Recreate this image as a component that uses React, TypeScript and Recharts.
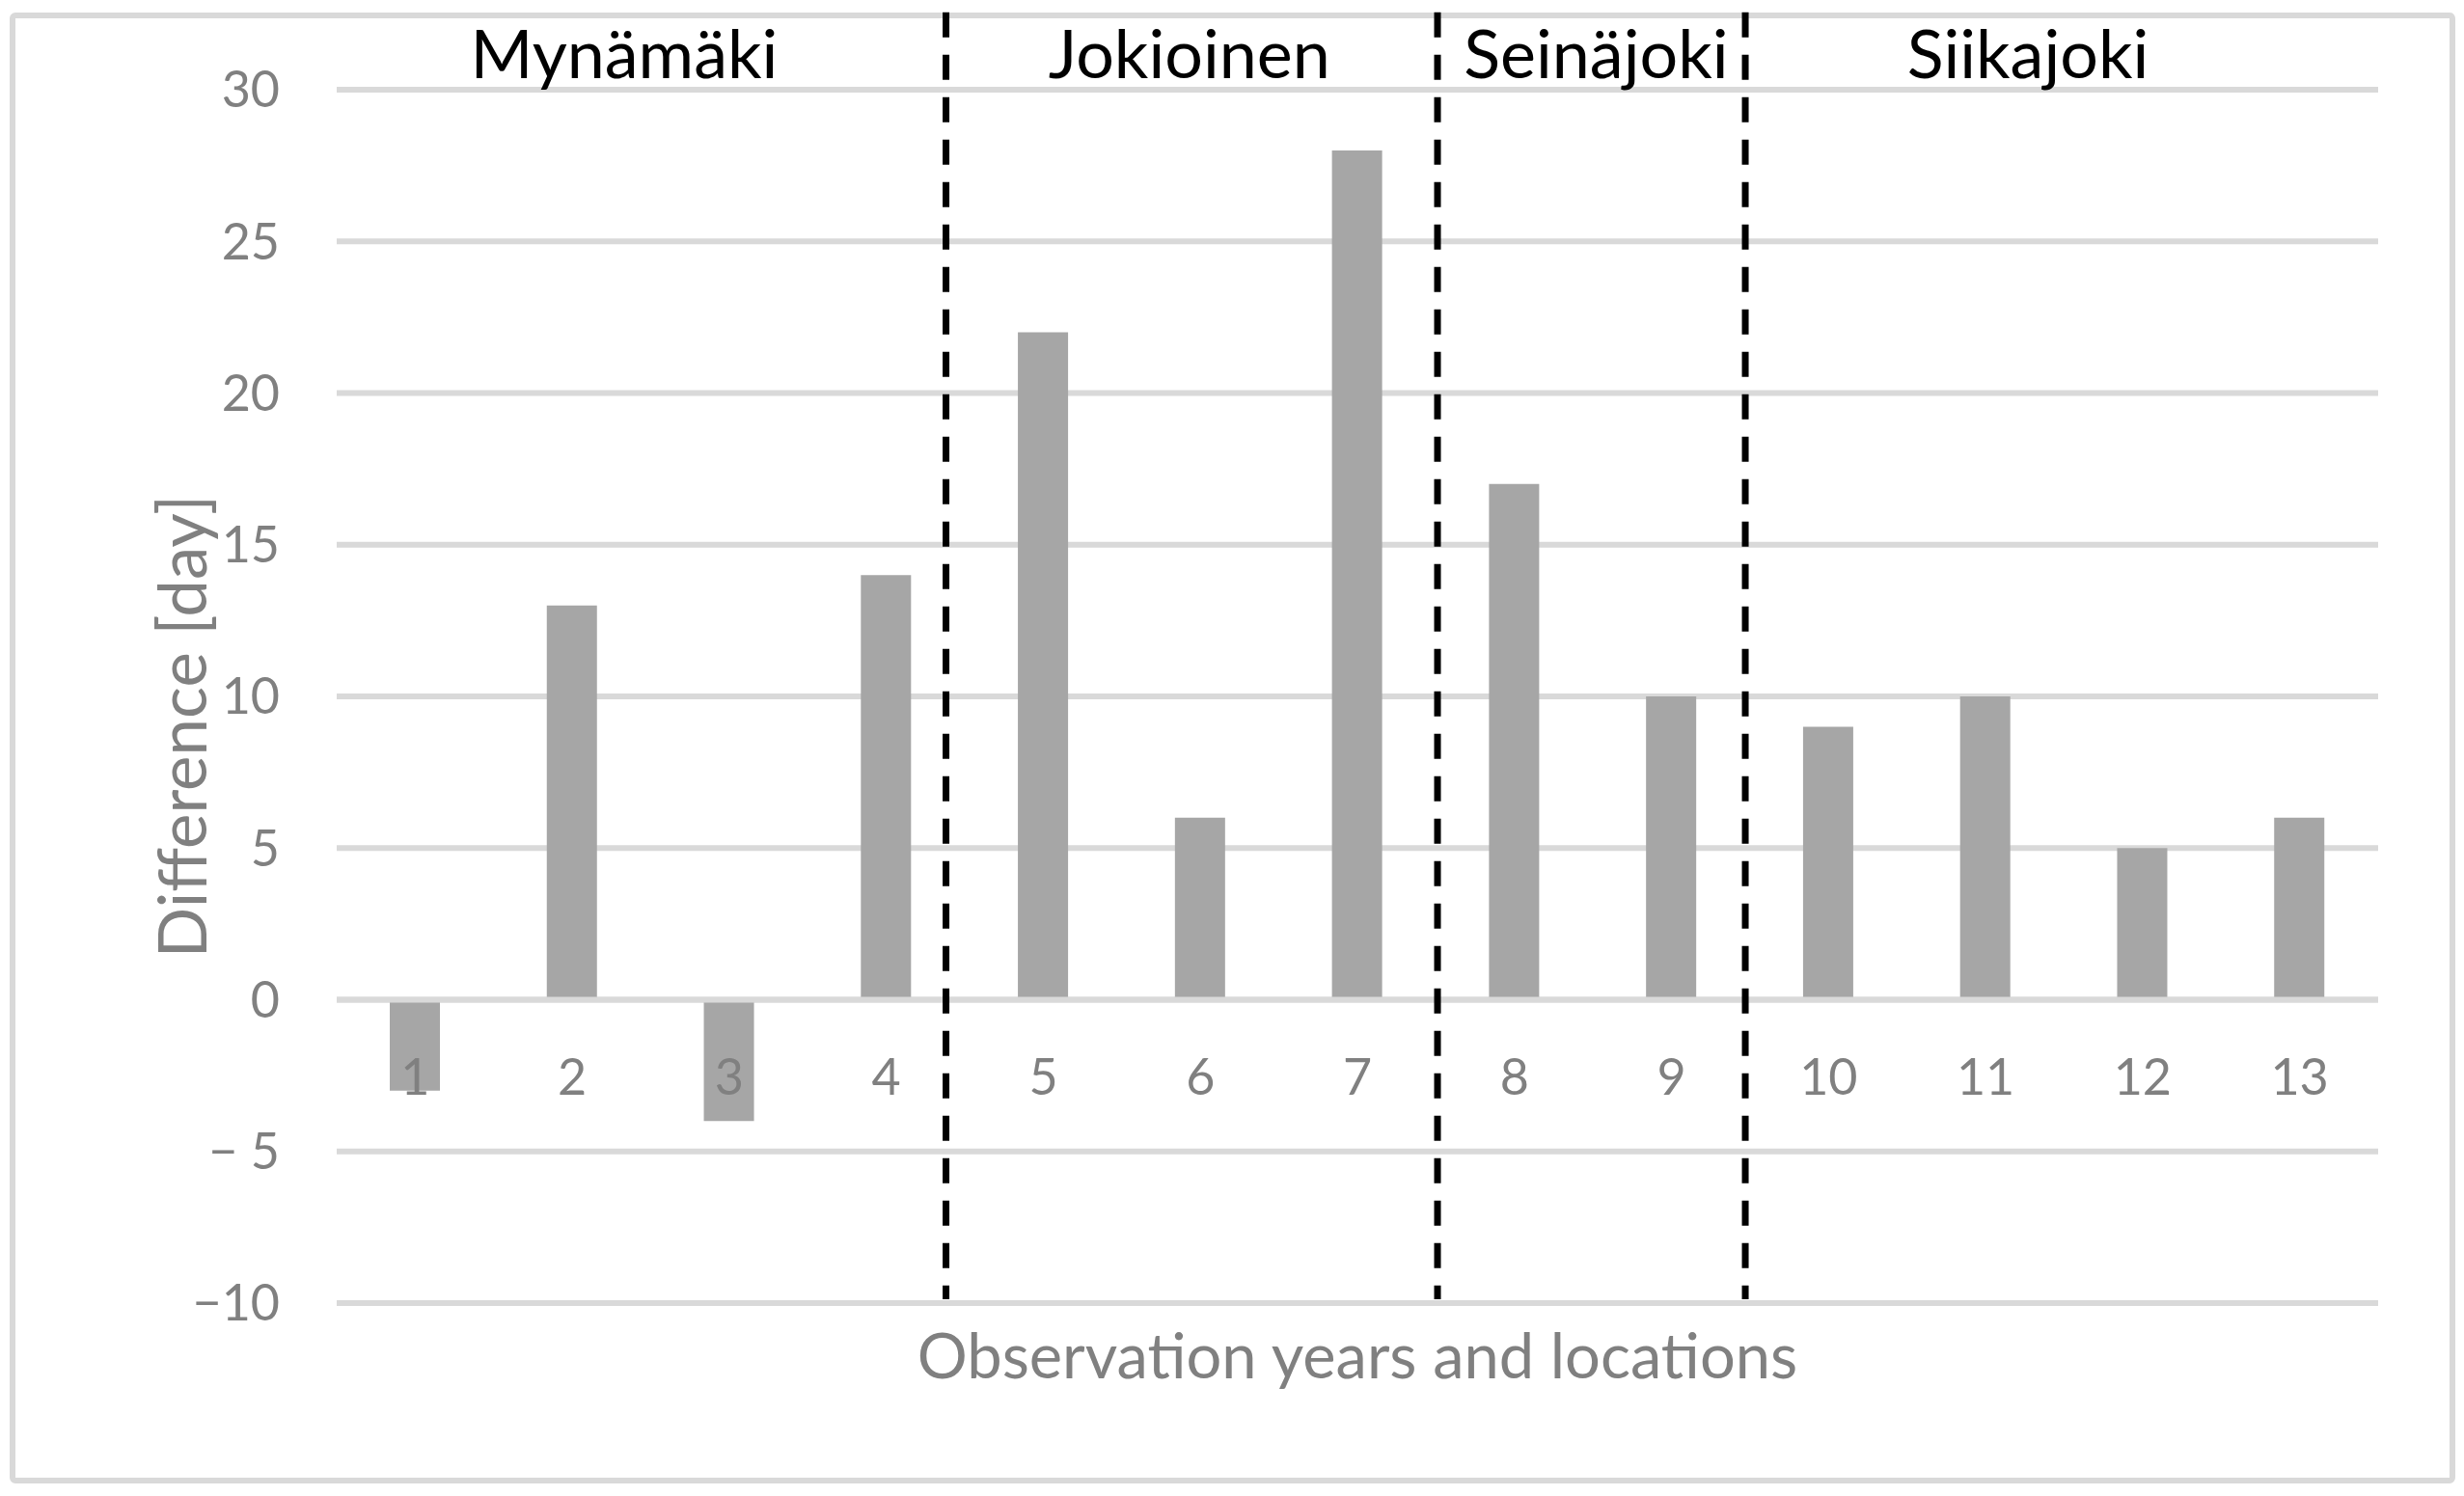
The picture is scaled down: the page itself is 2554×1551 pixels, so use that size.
import React from 'react';
import { BarChart, Bar, XAxis, YAxis, CartesianGrid, ReferenceLine, ReferenceDot } from 'recharts';

const categories = [1, 2, 3, 4, 5, 6, 7, 8, 9, 10, 11, 12, 13];
const values = [-3, 13, -4, 14, 22, 6, 28, 17, 10, 9, 10, 5, 6];
const yTicks = [-10, -5, 0, 5, 10, 15, 20, 25, 30];
const yTickLabels = ['\u221210', '\u2212 5', '0', '5', '10', '15', '20', '25', '30'];
const groupNames = ['Mynämäki', 'Jokioinen', 'Seinäjoki', 'Siikajoki'];
const groupLabelX = [2.33, 5.93, 8.52, 11.27];
const groupBoundaries = [4.38, 7.51, 9.47];

const data = categories.map((c, i) => ({ x: c, value: values[i] }));

const W = 2554;
const H = 1551;
const MARGIN = { top: 93, right: 89, bottom: 0, left: 0 };
const YAXIS_W = 349;
const XAXIS_H = 200;
const Y_MIN = -10;
const Y_MAX = 30;
const PLOT_H = H - MARGIN.top - MARGIN.bottom - XAXIS_H;
const zeroY = MARGIN.top + (PLOT_H * (Y_MAX - 0)) / (Y_MAX - Y_MIN);

const FONT = 'Lato, "Open Sans", sans-serif';
const GRAY = '#808080';

const XTick = (props: any) => {
  const { x, payload } = props;
  return (
    <text x={x} y={zeroY + 78} textAnchor="middle" dominantBaseline="central" fill={GRAY} fontSize={52} fontFamily={FONT}>
      {payload.value}
    </text>
  );
};

const XTitle = (props: any) => {
  const vb = props.viewBox || {};
  return (
    <text x={vb.x + vb.width / 2} y={vb.y + 53} textAnchor="middle" dominantBaseline="central" fill={GRAY} fontSize={65} fontFamily={FONT}>
      Observation years and locations
    </text>
  );
};

const YTitle = () => (
  <text x={187} y={753} transform="rotate(-90 187 753)" textAnchor="middle" dominantBaseline="central" fill={GRAY} fontSize={69} fontFamily={FONT}>
    Difference [day]
  </text>
);

const GroupLabel = (name: string) => (props: any) => (
  <text x={props.cx} y={props.cy} textAnchor="middle" dominantBaseline="central" fill="#000000" fontSize={70} fontFamily={FONT}>
    {name}
  </text>
);

export default function App() {
  return (
    <div style={{ position: 'absolute', left: 0, top: 0, width: W, height: H, background: '#ffffff' }}>
      <div
        style={{
          position: 'absolute',
          left: 10,
          top: 13,
          width: 2535,
          height: 1525,
          boxSizing: 'border-box',
          border: '6px solid #d9d9d9',
          borderRadius: 6,
        }}
      />
      <div style={{ position: 'absolute', left: 0, top: 0 }}>
        <BarChart width={W} height={H} data={data} margin={MARGIN}>
          <CartesianGrid horizontal vertical={false} stroke="#d9d9d9" strokeWidth={6} />
          <XAxis
            type="number"
            dataKey="x"
            domain={[0.5, 13.5]}
            ticks={categories}
            interval={0}
            allowDataOverflow
            axisLine={false}
            tickLine={false}
            height={XAXIS_H}
            tick={<XTick />}
            label={<XTitle />}
          />
          <YAxis
            type="number"
            domain={[Y_MIN, Y_MAX]}
            ticks={yTicks}
            interval={0}
            width={YAXIS_W}
            axisLine={false}
            tickLine={false}
            tickSize={6}
            tickMargin={53}
            tickFormatter={(v: number) => yTickLabels[yTicks.indexOf(v)]}
            tick={{ fill: GRAY, fontSize: 52, fontFamily: FONT }}
            label={<YTitle />}
          />
          <Bar dataKey="value" fill="#a6a6a6" barSize={52} isAnimationActive={false} />
          <ReferenceLine y={0} stroke="#d9d9d9" strokeWidth={6} />
          {groupBoundaries.map((b, i) => (
            <ReferenceLine
              key={'b' + i}
              segment={[{ x: b, y: 32.55 }, { x: b, y: -9.87 }]}
              ifOverflow="visible"
              stroke="#000000"
              strokeWidth={7}
              strokeDasharray="26 18"
            />
          ))}
          {groupNames.map((n, i) => (
            <ReferenceDot key={'g' + i} x={groupLabelX[i]} y={31.24} r={0} ifOverflow="visible" shape={GroupLabel(n)} />
          ))}
        </BarChart>
      </div>
    </div>
  );
}
